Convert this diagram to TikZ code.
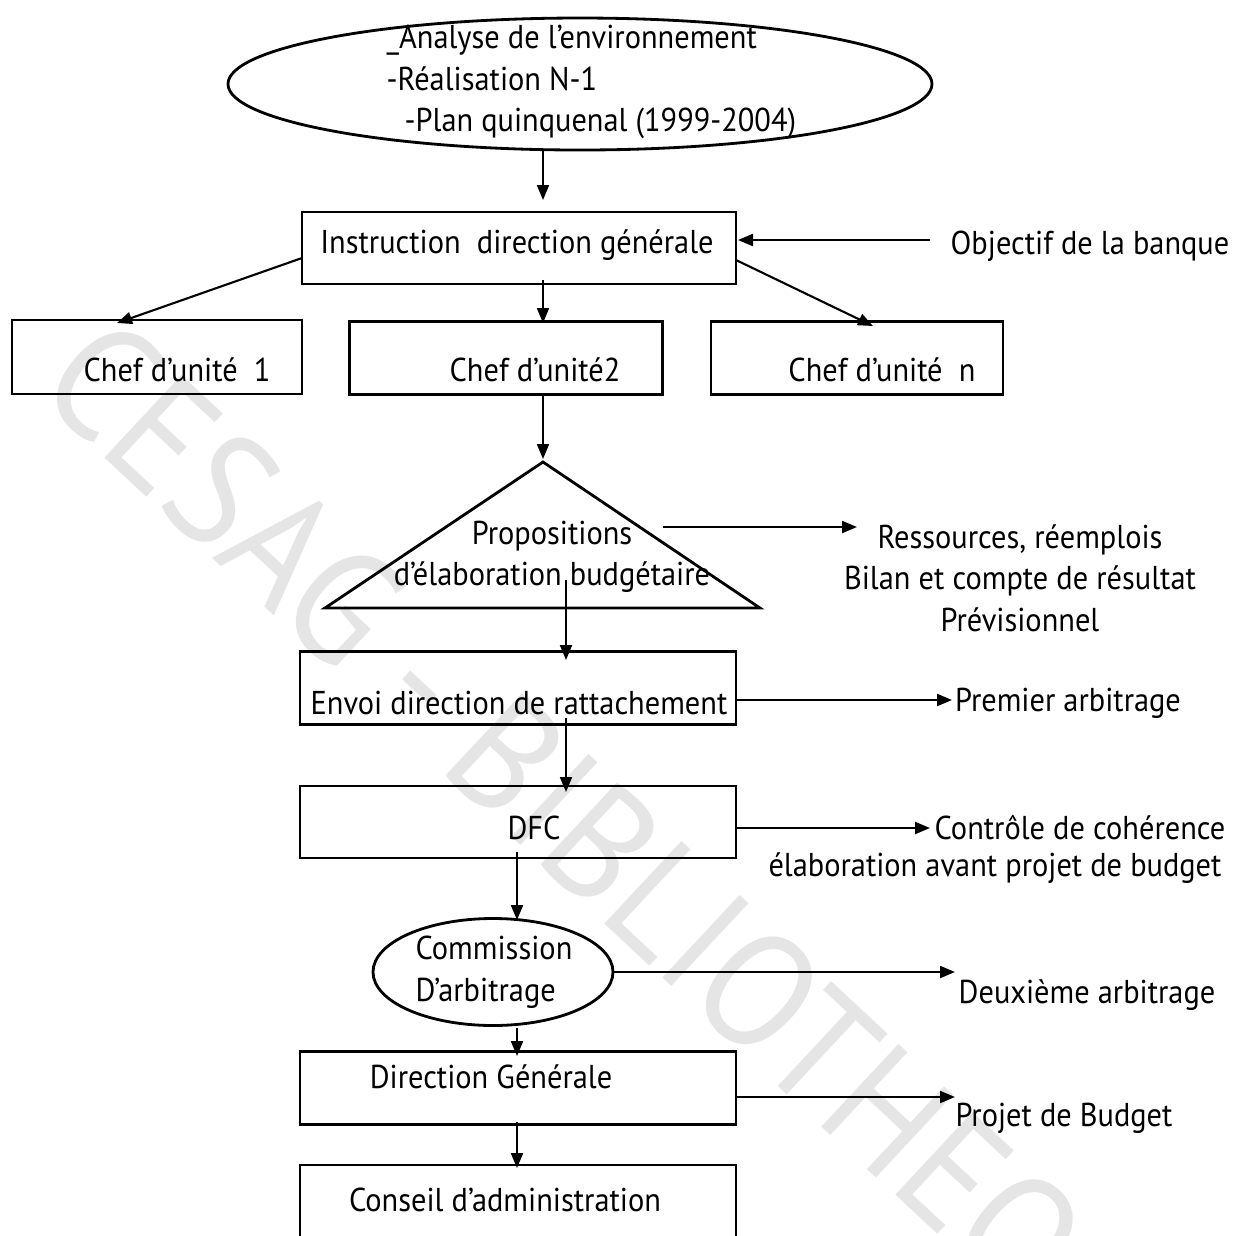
\documentclass[tikz,border=0pt]{standalone}
\usepackage{fontspec}
\setmainfont{PT Sans}[FakeStretch=0.92]
\usetikzlibrary{arrows.meta,shapes.geometric}

\begin{document}
\begin{tikzpicture}
        [x=0.1mm, y=-0.1mm, font=\fontsize{9.4}{11.8}\selectfont,
        box/.style={draw, line width=0.8pt, inner sep=0pt},
        oval/.style={ellipse, draw, line width=0.8pt, inner sep=0pt},
        txt/.style={inner sep=0pt},
        flow/.style={line width=0.6pt, -{Triangle[length=1.5mm, width=1.2mm]}},
        wmtext/.style={inner sep=0pt, text=gray!20, rotate=-43, font=\fontsize{46}{46}\selectfont}]

        \useasboundingbox (0,0) rectangle (1233,1236);

        % watermark
        \node[wmtext] (wm) at (620,880) {CESAG - BIBLIOTHEQUE};

        % top ellipse
        \node[oval, minimum width=70.4mm, minimum height=13.2mm] (env) at (580,84) {};
        \node[txt, anchor=west, align=left] (envt) at (386,82)
            {\_Analyse de l’environnement\\-Réalisation N-1\\\hspace*{1.8mm}-Plan quinquenal (1999-2004)};

        % boxes
        \node[box, minimum width=43.4mm, minimum height=7.2mm] (instr) at (519,248) {};
        \node[txt] (instrt) at (517,245) {Instruction\ \ direction générale};
        \node[txt] (obj) at (1090,246) {Objectif de la banque};

        \node[box, minimum width=29mm, minimum height=7.4mm] (chef1) at (157,357) {};
        \node[txt] (chef1t) at (177,370) {Chef d’unité\ \ 1};
        \node[box, minimum width=31.3mm, minimum height=7.3mm] (chef2) at (506,358) {};
        \node[txt] (chef2t) at (535,370) {Chef d’unité2};
        \node[box, minimum width=29.2mm, minimum height=7.3mm] (chefn) at (857,358) {};
        \node[txt] (chefnt) at (882,370) {Chef d’unité\ \ n};

        % triangle
        \coordinate (tapex) at (543,462);
        \coordinate (tleft) at (325,608);
        \coordinate (tright) at (760,608);
        \draw[line width=0.8pt] (tapex) -- (tright) -- (tleft) -- cycle;
        \node[txt, align=center] (prop) at (552,557) {Propositions\\d’élaboration budgétaire};
        \node[txt, align=center] (res) at (1020,578)
            {Ressources, réemplois\\Bilan et compte de résultat\\Prévisionnel};

        \node[box, minimum width=43.6mm, minimum height=7.3mm] (envoi) at (518,688) {};
        \node[txt] (envoit) at (519,703) {Envoi direction de rattachement};
        \node[txt] (arb1) at (1068,703) {Premier arbitrage};

        \node[box, minimum width=43.6mm, minimum height=7.2mm] (dfc) at (518,822) {};
        \node[txt] (dfct) at (534,828) {DFC};
        \node[txt] (ctrl) at (1080,828) {Contrôle de cohérence};
        \node[txt] (elab) at (995,868) {élaboration avant projet de budget};

        \node[oval, minimum width=24mm, minimum height=10.7mm] (comm) at (493,972) {};
        \node[txt, align=left] (commt) at (494,972) {Commission\\D’arbitrage};
        \node[txt] (arb2) at (1087,995) {Deuxième arbitrage};

        \node[box, minimum width=43.6mm, minimum height=7.3mm] (dg) at (518,1088) {};
        \node[txt] (dgt) at (491,1077) {Direction Générale};
        \node[txt] (proj) at (1064,1118) {Projet de Budget};

        \node[box, minimum width=43.6mm, minimum height=8mm] (ca) at (518,1205) {};
        \node[txt] (cat) at (505,1200) {Conseil d’administration};

        % connector ends
        \coordinate (envout) at (543,150);
        \coordinate (instrin) at (543,200);
        \coordinate (objout) at (930,240);
        \coordinate (instrr) at (738,240);
        \coordinate (instrw) at (302,258);
        \coordinate (chef1in) at (117,323);
        \coordinate (instrs) at (543,280);
        \coordinate (chef2in) at (543,323);
        \coordinate (instre) at (736,260);
        \coordinate (chefnin) at (873,326);
        \coordinate (chef2s) at (543,395);
        \coordinate (propin) at (543,459);
        \coordinate (propout) at (663,527);
        \coordinate (resin) at (857,527);
        \coordinate (props) at (566,580);
        \coordinate (envoiin) at (566,660);
        \coordinate (envoie) at (736,700);
        \coordinate (arb1in) at (952,700);
        \coordinate (envois) at (566,718);
        \coordinate (dfcin) at (566,792);
        \coordinate (dfce) at (736,828);
        \coordinate (ctrlin) at (930,828);
        \coordinate (dfcs) at (517,852);
        \coordinate (commin) at (517,920);
        \coordinate (arb2in) at (955,972);
        \coordinate (comms) at (517,1028);
        \coordinate (dgin) at (517,1056);
        \coordinate (dge) at (736,1097);
        \coordinate (projin) at (955,1097);
        \coordinate (dgs) at (517,1122);
        \coordinate (cain) at (517,1168);

        % arrows
        \draw[flow] (envout) -- (instrin);
        \draw[flow] (objout) -- (instrr);
        \draw[flow] (instrw) -- (chef1in);
        \draw[flow] (instrs) -- (chef2in);
        \draw[flow] (instre) -- (chefnin);
        \draw[flow] (chef2s) -- (propin);
        \draw[flow] (propout) -- (resin);
        \draw[flow] (props) -- (envoiin);
        \draw[flow] (envoie) -- (arb1in);
        \draw[flow] (envois) -- (dfcin);
        \draw[flow] (dfce) -- (ctrlin);
        \draw[flow] (dfcs) -- (commin);
        \draw[flow] (comm.east) -- (arb2in);
        \draw[flow] (comms) -- (dgin);
        \draw[flow] (dge) -- (projin);
        \draw[flow] (dgs) -- (cain);

\end{tikzpicture}
\end{document}
